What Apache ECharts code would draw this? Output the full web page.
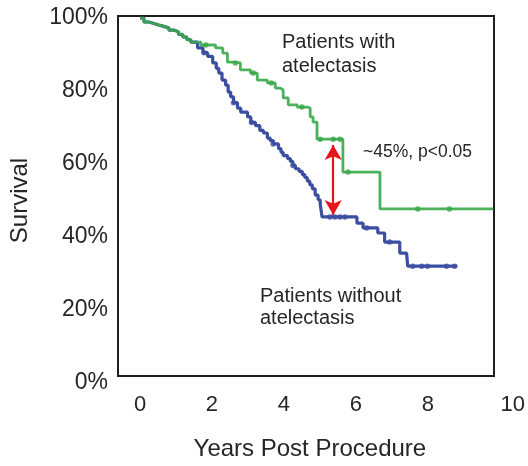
<!DOCTYPE html>
<html>
<head>
<meta charset="utf-8">
<script src="https://cdn.jsdelivr.net/npm/echarts@6/dist/echarts.min.js"></script>
<style>
  html, body { margin: 0; padding: 0; background: #fff; }
  #chart { width: 528px; height: 466px; }
</style>
</head>
<body>
<div id="chart"></div>
<script>
// ---- data (years, survival fraction) ----
const sharedTimes    = [0, 0.11, 0.25, 0.39, 0.52, 0.66, 0.80, 0.94, 1.07, 1.19, 1.30, 1.41];
const sharedSurvival = [1.0, 0.989, 0.985, 0.981, 0.977, 0.973, 0.967, 0.962, 0.955, 0.948, 0.941, 0.934];

const withTimes    = [1.69, 2.10, 2.30, 2.43, 2.60, 2.79, 3.07, 3.26, 3.54, 3.76, 3.90, 3.98, 4.12, 4.37, 4.65, 4.73, 4.81, 4.92, 5.64, 6.67, 9.82];
const withSurvival = [0.926, 0.918, 0.904, 0.879, 0.877, 0.858, 0.849, 0.830, 0.822, 0.808, 0.803, 0.781, 0.762, 0.756, 0.753, 0.729, 0.715, 0.668, 0.578, 0.477, 0.477];

const withoutTimes    = [1.60, 1.75, 1.88, 2.02, 2.12, 2.19, 2.28, 2.38, 2.45, 2.52, 2.60, 2.71, 2.80, 2.99, 3.08, 3.21, 3.33, 3.43, 3.54, 3.62, 3.71, 3.85, 3.92, 3.98, 4.10, 4.18, 4.25, 4.32, 4.42, 4.51, 4.58, 4.65, 4.72, 4.79, 4.87, 4.95, 5.01, 5.06, 6.03, 6.20, 6.61, 6.80, 7.22, 7.41, 7.44, 8.82];
const withoutSurvival = [0.918, 0.905, 0.895, 0.877, 0.862, 0.849, 0.830, 0.816, 0.797, 0.784, 0.768, 0.753, 0.742, 0.729, 0.714, 0.705, 0.692, 0.685, 0.671, 0.664, 0.655, 0.642, 0.632, 0.623, 0.615, 0.607, 0.596, 0.587, 0.580, 0.571, 0.563, 0.553, 0.543, 0.532, 0.515, 0.502, 0.490, 0.455, 0.438, 0.425, 0.411, 0.386, 0.356, 0.351, 0.320, 0.320];

const withCensorTimes    = [1.83, 2.65, 3.15, 3.65, 4.50, 5.01, 5.37, 5.56, 5.78, 7.72, 8.60];
const withCensorSurvival = [0.926, 0.877, 0.849, 0.822, 0.756, 0.668, 0.668, 0.668, 0.578, 0.477, 0.477];

const withoutCensorTimes    = [1.78, 2.60, 3.10, 3.70, 4.25, 5.28, 5.42, 5.56, 5.70, 6.30, 6.94, 7.58, 7.83, 7.99, 8.52, 8.74];
const withoutCensorSurvival = [0.905, 0.768, 0.714, 0.655, 0.596, 0.455, 0.455, 0.455, 0.455, 0.425, 0.386, 0.320, 0.320, 0.320, 0.320, 0.320];

const arrowTime = 5.37;
const arrowTop = 0.652;
const arrowBottom = 0.460;

const xTicks = [0, 2, 4, 6, 8, 10];
const yTickLabels = ['0%', '20%', '40%', '60%', '80%', '100%'];

const annotationWith = ['Patients with', 'atelectasis'];
const annotationWithout = ['Patients without', 'atelectasis'];
const annotationDiff = '~45%, p<0.05';

// ---- helpers ----
const pairs = (ts, ss) => ts.map((t, i) => [t, ss[i]]);
const withLine = pairs(sharedTimes, sharedSurvival).concat(pairs(withTimes, withSurvival));
const withoutLine = pairs(sharedTimes, sharedSurvival).concat(pairs(withoutTimes, withoutSurvival));

const GREEN = '#3aa84a';
const BLUE = '#3c4ea2';
const RED = '#e8141c';
const TEXT = '#262626';
const FONT = '"Liberation Sans", Arial, sans-serif';

const chart = echarts.init(document.getElementById('chart'), null, { renderer: 'canvas' });

chart.setOption({
  animation: false,
  backgroundColor: '#ffffff',
  grid: [
    { left: 139, right: 27.5, top: 18, bottom: 83, show: false },
    { left: 118, right: 34, top: 16, bottom: 90, show: true, borderColor: '#1e1e1e', borderWidth: 2, backgroundColor: 'transparent', z: 0 }
  ],
  xAxis: [
    {
      type: 'value', gridIndex: 0, min: 0, max: 10, interval: 2,
      axisLine: { show: false }, axisTick: { show: false }, splitLine: { show: false },
      axisLabel: {
        margin: 11, color: TEXT, fontFamily: FONT, fontSize: 22,
        formatter: v => (xTicks.indexOf(v) >= 0 ? (v === 10 ? '{s|10}' : String(v)) : ''),
        rich: { s: { padding: [0, 0, 0, 26], color: TEXT, fontFamily: FONT, fontSize: 22 } }
      },
      name: 'Years Post Procedure', nameLocation: 'middle', nameGap: 54,
      nameTextStyle: { color: TEXT, fontFamily: FONT, fontSize: 24, padding: [0, 20, 0, 0] }
    },
    { type: 'value', gridIndex: 1, show: false, min: 0, max: 1 }
  ],
  yAxis: [
    {
      type: 'value', gridIndex: 0, min: 0, max: 1, interval: 0.2,
      axisLine: { show: false }, axisTick: { show: false }, splitLine: { show: false },
      axisLabel: {
        margin: 32, color: TEXT, fontFamily: FONT, fontSize: 23,
        formatter: v => yTickLabels[Math.round(v * 5)]
      },
      name: 'Survival', nameLocation: 'middle', nameGap: 108, nameRotate: 90,
      nameTextStyle: { color: TEXT, fontFamily: FONT, fontSize: 24 }
    },
    { type: 'value', gridIndex: 1, show: false, min: 0, max: 1 }
  ],
  series: [
    {
      name: 'Patients without atelectasis', type: 'line', step: 'end',
      xAxisIndex: 0, yAxisIndex: 0, data: withoutLine,
      showSymbol: false, lineStyle: { color: BLUE, width: 3.2 }, z: 3
    },
    {
      name: 'Patients with atelectasis', type: 'line', step: 'end',
      xAxisIndex: 0, yAxisIndex: 0, data: withLine,
      showSymbol: false, lineStyle: { color: GREEN, width: 2.8, opacity: 0.9 }, z: 4,
      markLine: {
        silent: true, symbol: ['arrow', 'arrow'], symbolSize: [13, 15],
        label: { show: false },
        lineStyle: { color: RED, width: 2.2, type: 'solid', opacity: 1 },
        data: [[{ coord: [arrowTime, arrowTop] }, { coord: [arrowTime, arrowBottom] }]]
      }
    },
    {
      type: 'scatter', xAxisIndex: 0, yAxisIndex: 0,
      data: pairs(withoutCensorTimes, withoutCensorSurvival),
      symbol: 'circle', symbolSize: 5.5, itemStyle: { color: BLUE }, z: 5, silent: true
    },
    {
      type: 'scatter', xAxisIndex: 0, yAxisIndex: 0,
      data: pairs(withCensorTimes, withCensorSurvival),
      symbol: 'circle', symbolSize: 5.5, itemStyle: { color: GREEN }, z: 5, silent: true
    }
  ],
  graphic: [
    { type: 'text', x: 282, y: 42, style: { text: annotationWith[0], font: '20px ' + FONT, fill: TEXT, align: 'left', verticalAlign: 'middle' } },
    { type: 'text', x: 282, y: 66, style: { text: annotationWith[1], font: '20px ' + FONT, fill: TEXT, align: 'left', verticalAlign: 'middle' } },
    { type: 'text', x: 363, y: 152, style: { text: annotationDiff, font: '17.5px ' + FONT, fill: TEXT, align: 'left', verticalAlign: 'middle' } },
    { type: 'text', x: 260, y: 296, style: { text: annotationWithout[0], font: '20px ' + FONT, fill: TEXT, align: 'left', verticalAlign: 'middle' } },
    { type: 'text', x: 260, y: 318, style: { text: annotationWithout[1], font: '20px ' + FONT, fill: TEXT, align: 'left', verticalAlign: 'middle' } }
  ]
});
</script>
</body>
</html>
